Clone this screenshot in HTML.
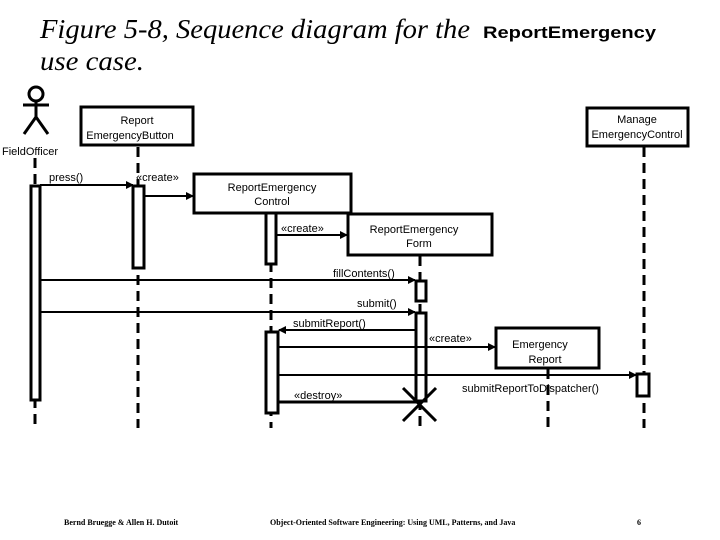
<!DOCTYPE html>
<html><head><meta charset="utf-8"><style>
html,body{margin:0;padding:0;background:#fff;}
svg{display:block;}
.t{font-family:"Liberation Sans",sans-serif;font-size:11px;fill:#000;}
.f{font-family:"Liberation Serif",serif;font-size:8px;fill:#000;font-weight:bold;}
</style></head><body>
<svg width="720" height="540" viewBox="0 0 720 540" xmlns="http://www.w3.org/2000/svg">
<defs><marker id="a" markerWidth="8" markerHeight="8" refX="7" refY="4" orient="auto" markerUnits="userSpaceOnUse"><path d="M0,0 L8,4 L0,8 z" fill="#000"/></marker></defs>
<text x="40" y="38" font-family="Liberation Serif,serif" font-style="italic" font-size="27" textLength="430" lengthAdjust="spacingAndGlyphs">Figure 5-8, Sequence diagram for the</text>
<text x="483" y="38" font-family="Liberation Sans,sans-serif" font-weight="bold" font-size="17" textLength="173" lengthAdjust="spacingAndGlyphs">ReportEmergency</text>
<text x="40" y="70" font-family="Liberation Serif,serif" font-style="italic" font-size="27" textLength="104" lengthAdjust="spacingAndGlyphs">use case.</text>
<g stroke="#000" stroke-width="3" fill="none">
<circle cx="36" cy="94" r="7"/>
<line x1="36" y1="101" x2="36" y2="117"/>
<line x1="23" y1="105" x2="49" y2="105"/>
<line x1="24" y1="134" x2="36" y2="117"/><line x1="48" y1="134" x2="36" y2="117"/>
<rect x="81" y="107" width="112" height="38" fill="#fff"/>
<rect x="587" y="108" width="101" height="38" fill="#fff"/>
<rect x="194" y="174" width="157" height="39" fill="#fff"/>
<rect x="348" y="214" width="144" height="41" fill="#fff"/>
<rect x="496" y="328" width="103" height="40" fill="#fff"/>
<g stroke-dasharray="10,6">
<line x1="35" y1="158" x2="35" y2="428"/>
<line x1="138" y1="147" x2="138" y2="428"/>
<line x1="271" y1="214" x2="271" y2="428"/>
<line x1="420" y1="256" x2="420" y2="428"/>
<line x1="548" y1="369" x2="548" y2="428"/>
<line x1="644" y1="147" x2="644" y2="428"/>
</g>
<rect x="31" y="186" width="9" height="214" fill="#fff"/>
<rect x="133" y="186" width="11" height="82" fill="#fff"/>
<rect x="266" y="213" width="10" height="51" fill="#fff"/>
<rect x="416" y="281" width="10" height="20" fill="#fff"/>
<rect x="416" y="313" width="10" height="88" fill="#fff"/>
<rect x="266" y="332" width="12" height="81" fill="#fff"/>
<rect x="637" y="374" width="12" height="22" fill="#fff"/>
<line x1="403" y1="388" x2="436" y2="421"/><line x1="436" y1="388" x2="403" y2="421"/>
</g>
<g stroke="#000" stroke-width="2" fill="none">
<line x1="40" y1="185" x2="133" y2="185" marker-end="url(#a)"/>
<line x1="144" y1="196" x2="193" y2="196" marker-end="url(#a)"/>
<line x1="276" y1="235" x2="347" y2="235" marker-end="url(#a)"/>
<line x1="40" y1="280" x2="415" y2="280" marker-end="url(#a)"/>
<line x1="40" y1="312" x2="415" y2="312" marker-end="url(#a)"/>
<line x1="415" y1="330" x2="279" y2="330" marker-end="url(#a)"/>
<line x1="278" y1="347" x2="495" y2="347" marker-end="url(#a)"/>
<line x1="278" y1="375" x2="636" y2="375" marker-end="url(#a)"/>
<line x1="278" y1="402" x2="417" y2="402" stroke-width="3"/>
</g>
<g class="t">
<text x="137" y="124" text-anchor="middle">Report</text>
<text x="130" y="139" text-anchor="middle">EmergencyButton</text>
<text x="637" y="123" text-anchor="middle">Manage</text>
<text x="637" y="138" text-anchor="middle">EmergencyControl</text>
<text x="2" y="155">FieldOfficer</text>
<text x="49" y="181">press()</text>
<text x="136" y="181">«create»</text>
<text x="272" y="191" text-anchor="middle">ReportEmergency</text>
<text x="272" y="205" text-anchor="middle">Control</text>
<text x="281" y="232">«create»</text>
<text x="414" y="233" text-anchor="middle">ReportEmergency</text>
<text x="419" y="247" text-anchor="middle">Form</text>
<text x="333" y="277">fillContents()</text>
<text x="357" y="307">submit()</text>
<text x="293" y="327">submitReport()</text>
<text x="429" y="342">«create»</text>
<text x="540" y="348" text-anchor="middle">Emergency</text>
<text x="545" y="363" text-anchor="middle">Report</text>
<text x="462" y="392">submitReportToDispatcher()</text>
<text x="294" y="399">«destroy»</text>
</g>
<text class="f" x="64" y="525">Bernd Bruegge &amp; Allen H. Dutoit</text>
<text class="f" x="270" y="525">Object-Oriented Software Engineering: Using UML, Patterns, and Java</text>
<text class="f" x="637" y="525">6</text>
</svg>
</body></html>
